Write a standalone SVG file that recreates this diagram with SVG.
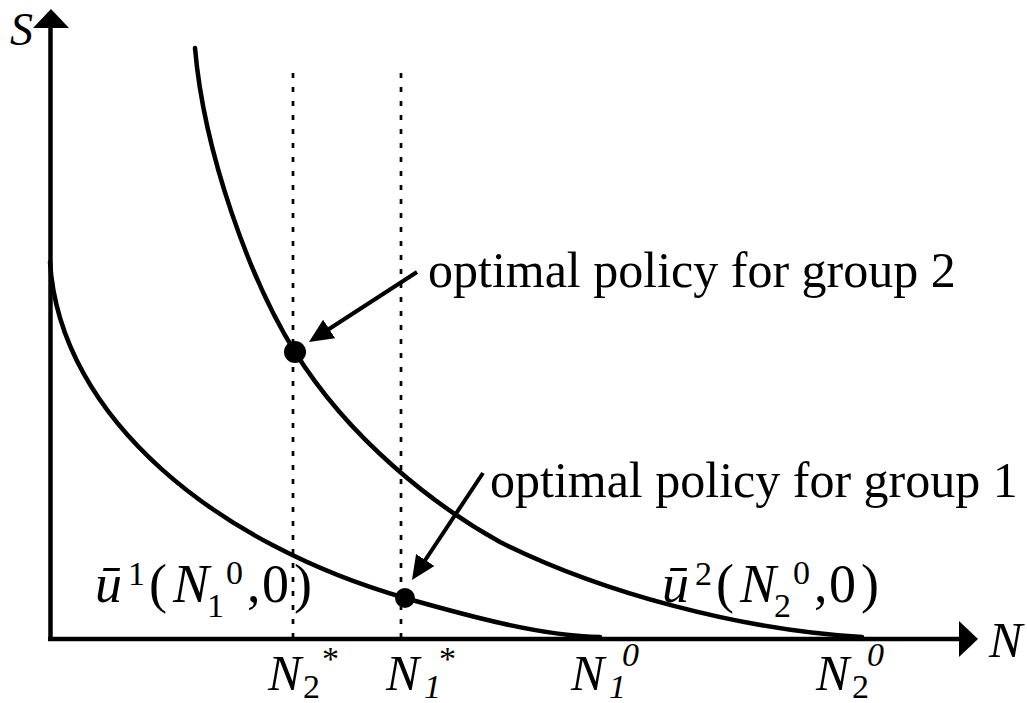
<svg xmlns="http://www.w3.org/2000/svg" width="1027" height="703" viewBox="0 0 1027 703">
<style>
.t{font-family:"Liberation Serif","Times New Roman",serif;fill:#000}
.i{font-style:italic}
.big{font-size:50px}
.m{font-size:54px}
.s{font-size:34px}
.ax{stroke:#000;stroke-width:4.5;fill:none}
.cv{stroke:#000;stroke-width:4.5;fill:none;stroke-linecap:round}
.dt{stroke:#000;stroke-width:2.7;stroke-dasharray:5 9;fill:none}
.ar{stroke:#000;stroke-width:4;fill:none;marker-end:url(#ah)}
</style>
<defs>
<marker id="ah" markerUnits="userSpaceOnUse" markerWidth="24" markerHeight="22" refX="18" refY="11" orient="auto">
<path d="M0,0 L24,11 L0,22 Z" fill="#000"/>
</marker>
</defs>
<rect width="1027" height="703" fill="#fff"/>
<g id="axes">
<line class="ax" x1="50.5" y1="641" x2="50.5" y2="26"/>
<polygon points="33,28 69,28 51,9" fill="#000"/>
<line class="ax" x1="48" y1="639" x2="961" y2="639"/>
<polygon points="959,621 959,657 978,639" fill="#000"/>
<text class="t i" x="10" y="45" font-size="46">S</text>
<text class="t i big" x="989" y="657">N</text>
</g>
<g id="guides">
<line class="dt" x1="293" y1="73" x2="293" y2="637"/>
<line class="dt" x1="401" y1="73" x2="401" y2="637"/>
</g>
<g id="curve1">
<path class="cv" d="M50,262 C60,420 220,545 405,598 C465,615 540,636 600,637"/>
<text class="t"><tspan class="m i" x="95" y="602">ū</tspan><tspan class="s" x="128" y="585">1</tspan><tspan class="m" x="149" y="602">(</tspan><tspan class="m i" x="173" y="602">N</tspan><tspan class="s" x="207" y="617">1</tspan><tspan class="s" x="226" y="584">0</tspan><tspan class="m" x="247" y="602">,</tspan><tspan class="m" x="262" y="602">0</tspan><tspan class="m" x="294" y="602">)</tspan></text>
</g>
<g id="curve2">
<path class="cv" d="M195,48 C204,153 250,280 295,352 C350,440 435,506 500,542 C600,592 740,630 862,637"/>
<text class="t"><tspan class="m i" x="662" y="602">ū</tspan><tspan class="s" x="695" y="585">2</tspan><tspan class="m" x="716" y="602">(</tspan><tspan class="m i" x="740" y="602">N</tspan><tspan class="s" x="774" y="617">2</tspan><tspan class="s" x="793" y="584">0</tspan><tspan class="m" x="814" y="602">,</tspan><tspan class="m" x="829" y="602">0</tspan><tspan class="m" x="861" y="602">)</tspan></text>
</g>
<g id="point2">
<circle cx="295" cy="352" r="11" fill="#000"/>
<text class="t big" x="428" y="287">optimal policy for group 2</text>
</g>
<g id="point1">
<circle cx="405" cy="598" r="10" fill="#000"/>
<text class="t big" x="490" y="497">optimal policy for group 1</text>
</g>
<g id="connectors">
<line class="ar" x1="417" y1="272" x2="314" y2="338.7"/>
<line class="ar" x1="483" y1="473" x2="415.3" y2="575"/>
</g>
<g id="ticks">
<text class="t"><tspan class="big i" x="268" y="690">N</tspan><tspan class="s" x="303" y="698">2</tspan><tspan class="s" x="322" y="670">*</tspan></text>
<text class="t"><tspan class="big i" x="386" y="690">N</tspan><tspan class="s i" x="424" y="698">1</tspan><tspan class="s" x="439" y="670">*</tspan></text>
<text class="t"><tspan class="big i" x="571" y="690">N</tspan><tspan class="s i" x="609" y="698">1</tspan><tspan class="s i" x="622" y="666">0</tspan></text>
<text class="t"><tspan class="big i" x="816" y="690">N</tspan><tspan class="s" x="852" y="698">2</tspan><tspan class="s i" x="867" y="666">0</tspan></text>
</g>
</svg>
